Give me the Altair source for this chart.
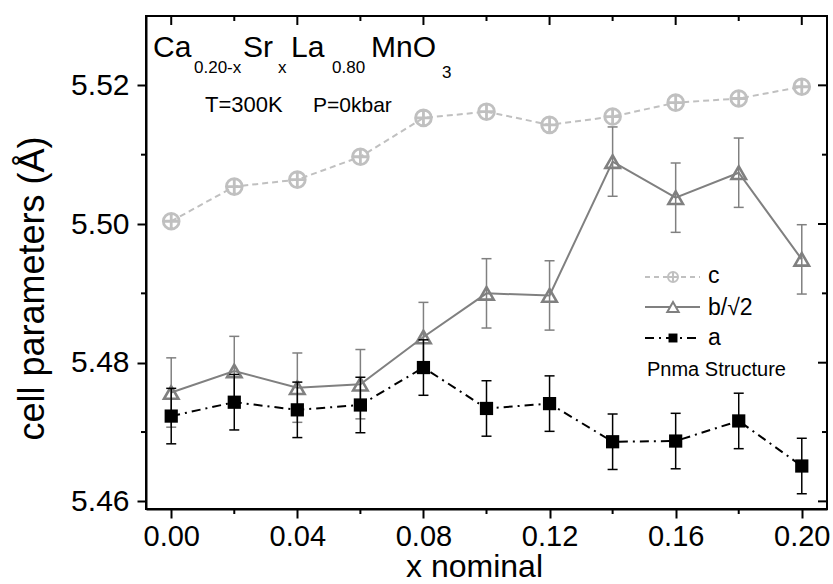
import altair as alt
import pandas as pd

# ---------------- data ----------------
x_nominal = [0.00, 0.02, 0.04, 0.06, 0.08, 0.10, 0.12, 0.14, 0.16, 0.18, 0.20]
c_values = [5.5004, 5.5054, 5.5064, 5.5097, 5.5153, 5.5162, 5.5143, 5.5155, 5.5175, 5.5181, 5.5198]
b_values = [5.4757, 5.4788, 5.4764, 5.4769, 5.4837, 5.4900, 5.4897, 5.5090, 5.5038, 5.5074, 5.4949]
a_values = [5.4723, 5.4743, 5.4732, 5.4739, 5.4793, 5.4734, 5.4741, 5.4686, 5.4687, 5.4716, 5.4651]
b_errors = [0.005, 0.005, 0.005, 0.005, 0.005, 0.005, 0.005, 0.005, 0.005, 0.005, 0.005]
a_errors = [0.004, 0.004, 0.004, 0.004, 0.004, 0.004, 0.004, 0.004, 0.004, 0.004, 0.004]

x_major_ticks = [0.00, 0.04, 0.08, 0.12, 0.16, 0.20]
x_minor_ticks = [0.02, 0.06, 0.10, 0.14, 0.18]
y_major_ticks = [5.46, 5.48, 5.50, 5.52]
y_minor_ticks = [5.47, 5.49, 5.51]

legend_labels = ["c", "b/\u221a2", "a"]

# ---------------- layout ----------------
W, H = 681, 493
LEFT, TOP = 146, 16
FONT = "Liberation Sans"
C_COLOR = "#c0c0c0"
B_COLOR = "#808080"
A_COLOR = "#000000"
CIRCLE_CROSS = "M-1,0A1,1,0,1,1,1,0A1,1,0,1,1,-1,0ZM-1,0L1,0M0,-1L0,1"

df = pd.DataFrame({"x": x_nominal, "c": c_values, "b": b_values, "a": a_values})
df["b_lo"] = [v - e for v, e in zip(b_values, b_errors)]
df["b_hi"] = [v + e for v, e in zip(b_values, b_errors)]
df["a_lo"] = [v - e for v, e in zip(a_values, a_errors)]
df["a_hi"] = [v + e for v, e in zip(a_values, a_errors)]

xscale = alt.Scale(domain=[-0.008, 0.208], nice=False, zero=False)
yscale = alt.Scale(domain=[5.4589, 5.530], nice=False, zero=False)

xaxis = alt.Axis(
    values=x_major_ticks, format=".2f", title="x nominal", grid=False,
    tickSize=9, tickWidth=2, tickColor="black",
    domainColor="black", domainWidth=2,
    labelFont=FONT, labelFontSize=29, labelColor="black", labelPadding=4,
    labelFlush=False, labelOverlap=False,
    titleFont=FONT, titleFontSize=32, titleFontWeight="normal", titleColor="black",
    titleX=328, titleY=67, titleBaseline="alphabetic", titleAlign="center",
)
yaxis = alt.Axis(
    values=y_major_ticks, format=".2f", title="cell parameters (\u00c5)", grid=False,
    tickSize=9, tickWidth=2, tickColor="black",
    domainColor="black", domainWidth=2,
    labelFont=FONT, labelFontSize=30, labelColor="black", labelPadding=8,
    labelFlush=False, labelOverlap=False,
    titleFont=FONT, titleFontSize=36, titleFontWeight="normal", titleColor="black",
    titleAngle=270, titleX=-103, titleY=272, titleBaseline="alphabetic", titleAlign="center",
)


def Xf(field):
    return alt.X(f"{field}:Q", scale=xscale, axis=xaxis)


def Yf(field):
    return alt.Y(f"{field}:Q", scale=yscale, axis=yaxis)


X = Xf("x")
base = alt.Chart(df)

c_line = base.mark_line(color=C_COLOR, strokeWidth=2, strokeDash=[6, 4]).encode(x=X, y=Yf("c"))
c_pts = base.mark_point(shape=CIRCLE_CROSS, filled=False, size=250, strokeWidth=2.8,
                        color=C_COLOR, opacity=1).encode(x=X, y=Yf("c"))

b_err = base.mark_rule(color=B_COLOR, strokeWidth=1.5).encode(x=X, y=Yf("b_lo"), y2="b_hi:Q")
b_cap_lo = base.mark_tick(orient="horizontal", size=10, thickness=1.5, color=B_COLOR,
                          opacity=1).encode(x=X, y=Yf("b_lo"))
b_cap_hi = base.mark_tick(orient="horizontal", size=10, thickness=1.5, color=B_COLOR,
                          opacity=1).encode(x=X, y=Yf("b_hi"))
b_line = base.mark_line(color=B_COLOR, strokeWidth=2).encode(x=X, y=Yf("b"))
b_pts = base.mark_point(shape="triangle-up", filled=False, size=210, strokeWidth=2.6,
                        color=B_COLOR, opacity=1).encode(x=X, y=Yf("b"))

a_err = base.mark_rule(color=A_COLOR, strokeWidth=1.5).encode(x=X, y=Yf("a_lo"), y2="a_hi:Q")
a_cap_lo = base.mark_tick(orient="horizontal", size=10, thickness=1.5, color=A_COLOR,
                          opacity=1).encode(x=X, y=Yf("a_lo"))
a_cap_hi = base.mark_tick(orient="horizontal", size=10, thickness=1.5, color=A_COLOR,
                          opacity=1).encode(x=X, y=Yf("a_hi"))
a_line = base.mark_line(color=A_COLOR, strokeWidth=2, strokeDash=[9, 5, 2, 5]).encode(x=X, y=Yf("a"))
a_pts = base.mark_point(shape="square", filled=True, size=175, color=A_COLOR,
                        opacity=1).encode(x=X, y=Yf("a"))

# ---------------- extra ticks (minor outward, mirrored inward) ----------------
xmin_df = pd.DataFrame({"xv": x_minor_ticks})
xmaj_df = pd.DataFrame({"xv": x_major_ticks})
ymin_df = pd.DataFrame({"yv": y_minor_ticks})
ymaj_df = pd.DataFrame({"yv": y_major_ticks})
XV = Xf("xv")
YV = Yf("yv")

tick_layers = [
    alt.Chart(xmin_df).mark_rule(color="black", strokeWidth=2).encode(x=XV, y=alt.value(H), y2=alt.value(H + 5)),
    alt.Chart(ymin_df).mark_rule(color="black", strokeWidth=2).encode(y=YV, x=alt.value(0), x2=alt.value(-5)),
    alt.Chart(xmaj_df).mark_rule(color="black", strokeWidth=2).encode(x=XV, y=alt.value(0), y2=alt.value(9)),
    alt.Chart(xmin_df).mark_rule(color="black", strokeWidth=2).encode(x=XV, y=alt.value(0), y2=alt.value(5)),
    alt.Chart(ymaj_df).mark_rule(color="black", strokeWidth=2).encode(y=YV, x=alt.value(W), x2=alt.value(W - 9)),
    alt.Chart(ymin_df).mark_rule(color="black", strokeWidth=2).encode(y=YV, x=alt.value(W), x2=alt.value(W - 5)),
]

# ---------------- annotations ----------------
DUMMY = pd.DataFrame({"_": [0]})


def label(text, px, py, size, baseline="alphabetic", align="left", color="black"):
    return alt.Chart(DUMMY).mark_text(
        text=text, font=FONT, fontSize=size, align=align, baseline=baseline, color=color
    ).encode(x=alt.value(px - LEFT), y=alt.value(py - TOP))


texts = [
    label("Ca", 153, 57, 30),
    label("0.20-x", 194, 73, 17),
    label("Sr", 243, 57, 30),
    label("x", 278, 73, 17),
    label("La", 291, 57, 30),
    label("0.80", 332, 73, 17),
    label("MnO", 371, 57, 30),
    label("3", 442, 78, 17),
    label("T=300K", 205, 112, 22),
    label("P=0kbar", 313, 112, 21),
    label("Pnma Structure", 647, 376, 20),
]

# legend
LX1, LX2, LM, LT = 645, 700, 673, 708
leg_rows = [(277, 283), (307, 315), (338, 345)]


def leg_line(row, color, dash=None):
    kw = dict(color=color, strokeWidth=2)
    if dash:
        kw["strokeDash"] = dash
    y = leg_rows[row][0] - TOP
    return alt.Chart(DUMMY).mark_rule(**kw).encode(
        x=alt.value(LX1 - LEFT), x2=alt.value(LX2 - LEFT), y=alt.value(y))


def leg_pt(row, **kw):
    y = leg_rows[row][0] - TOP
    return alt.Chart(DUMMY).mark_point(opacity=1, **kw).encode(
        x=alt.value(LM - LEFT), y=alt.value(y))


legend = [
    leg_line(0, C_COLOR, [5, 4]),
    leg_pt(0, shape=CIRCLE_CROSS, filled=False, size=100, strokeWidth=2, color=C_COLOR),
    leg_line(1, B_COLOR),
    leg_pt(1, shape="triangle-up", filled=False, fill="white", fillOpacity=1, stroke=B_COLOR,
           size=130, strokeWidth=2),
    leg_line(2, A_COLOR, [9, 5, 2, 5]),
    leg_pt(2, shape="square", filled=True, size=80, color=A_COLOR),
]
for i, lab in enumerate(legend_labels):
    legend.append(label(lab, LT, leg_rows[i][1], 23))

chart = alt.layer(
    c_line, c_pts,
    b_err, b_cap_lo, b_cap_hi, b_line, b_pts,
    a_err, a_cap_lo, a_cap_hi, a_line, a_pts,
    *tick_layers, *texts, *legend,
).properties(
    width=W, height=H,
    autosize="none",
    padding={"left": LEFT, "top": TOP, "right": 833 - LEFT - W, "bottom": 584 - TOP - H},
    background="white",
).configure_view(
    stroke="black", strokeWidth=2
)

chart.save("out.html", embed_options={"renderer": "svg", "actions": False})
